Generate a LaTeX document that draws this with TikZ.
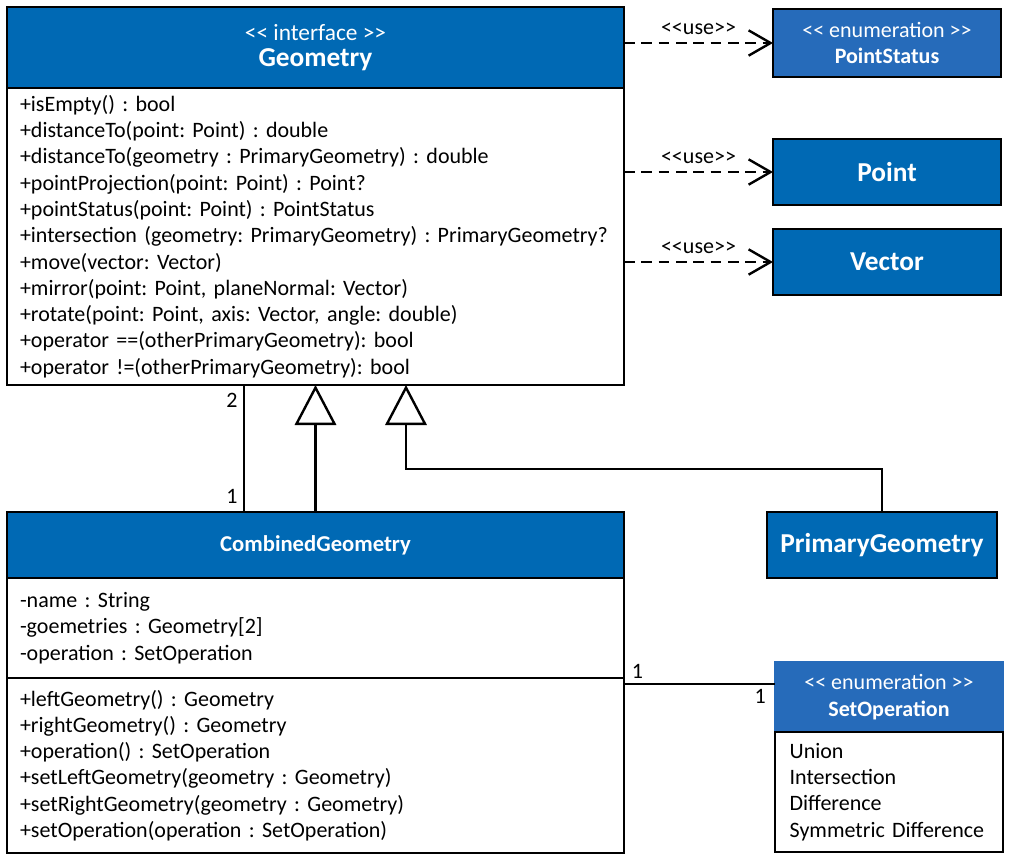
\documentclass[tikz,border=0pt]{standalone}
\usepackage{fontspec}
\setmainfont{Carlito}
\usetikzlibrary{arrows.meta,positioning}
\definecolor{umlblue}{RGB}{0,105,180}
\definecolor{enumblue}{RGB}{38,107,186}
\newcommand{\fsz}[1]{\fontsize{#1}{19.7pt}\selectfont}
\newcommand{\stl}{<\kern0pt<}
\newcommand{\str}{>\kern0pt>}
\frenchspacing
\tikzset{
  cls/.style={draw, line width=1.8pt, inner sep=0pt, outer sep=0pt, anchor=north west},
  head/.style={cls, fill=umlblue, text=white, align=center, font=\bfseries\fsz{16.5}},
  body/.style={cls, fill=white, align=left, inner xsep=9.75pt, font=\fsz{16.5}},
  dep/.style={line width=1.8pt, dashed, dash pattern=on 8pt off 5pt,
    -{Straight Barb[length=16.5pt,width=19pt]}},
  gen/.style={line width=1.8pt, -{Triangle[length=30pt,width=31pt,fill=white]}},
  mult/.style={font=\fsz{16.5}, inner sep=1pt}
}
\begin{document}
\begin{tikzpicture}[x=0.75pt,y=-0.75pt]
        \useasboundingbox (0,0) rectangle (1010,861);
        % interface Geometry
        \node[head, minimum width=462.75pt, minimum height=60.75pt] (geohead) at (7,7)
        {{\fsz{17.5}\mdseries \stl{} interface \str}\\{\fsz{20.5}Geometry}};
        \node[body, text width=443.25pt, minimum height=222.75pt] (geobody) at (geohead.south west)
        {+isEmpty() : bool\\
         +distanceTo(point: Point) : double\\
         +distanceTo(geometry : PrimaryGeometry) : double\\
         +pointProjection(point: Point) : Point?\\
         +pointStatus(point: Point) : PointStatus\\
         +intersection (geometry: PrimaryGeometry) : PrimaryGeometry?\\
         +move(vector: Vector)\\
         +mirror(point: Point, planeNormal: Vector)\\
         +rotate(point: Point, axis: Vector, angle: double)\\
         +operator ==(otherPrimaryGeometry): bool\\
         +operator !=(otherPrimaryGeometry): bool\par\vspace*{7.5pt}};
        % used types
        \node[head, fill=enumblue, minimum width=171pt, minimum height=51pt] (pstatus) at (773,9)
        {{\mdseries \stl{} enumeration \str}\\PointStatus};
        \node[head, minimum width=171pt, minimum height=49.5pt, font=\bfseries\fsz{20.5}] (point) at (773,139) {Point};
        \node[head, minimum width=171pt, minimum height=49.5pt, font=\bfseries\fsz{20.5}] (vector) at (773,229) {Vector};
        \draw[dep] (geohead.east |- pstatus.west) -- (pstatus.west) node[midway, above=4pt, mult] {\stl use\str};
        \draw[dep] (geobody.east |- point.west) -- (point.west) node[midway, above=4pt, mult] {\stl use\str};
        \draw[dep] (geobody.east |- vector.west) -- (vector.west) node[midway, above=4pt, mult] {\stl use\str};
        % CombinedGeometry
        \node[head, minimum width=462.75pt, minimum height=49.5pt, font=\bfseries\fsz{17}] (combhead) at (7,512) {CombinedGeometry};
        \node[body, text width=443.25pt, minimum height=75pt] (combattr) at (combhead.south west)
        {-name : String\\
         -goemetries : Geometry[2]\\
         -operation : SetOperation};
        \node[body, text width=443.25pt, minimum height=131.25pt] (combmeth) at (combattr.south west)
        {+leftGeometry() : Geometry\\
         +rightGeometry() : Geometry\\
         +operation() : SetOperation\\
         +setLeftGeometry(geometry : Geometry)\\
         +setRightGeometry(geometry : Geometry)\\
         +setOperation(operation : SetOperation)};
        % PrimaryGeometry
        \node[head, minimum width=172.5pt, minimum height=49.5pt, font=\bfseries\fsz{20.5}] (primary) at (767,512) {PrimaryGeometry};
        % SetOperation
        \node[head, draw=enumblue, fill=enumblue, minimum width=171pt, minimum height=52.5pt] (setophead) at (775,662)
        {{\mdseries \stl{} enumeration \str}\\SetOperation};
        \node[body, inner xsep=11pt, text width=149pt, minimum height=90pt] (setopbody) at (setophead.south west)
        {Union\\
         Intersection\\
         Difference\\
         Symmetric Difference};
        % composition and generalisations
        \coordinate (compx) at (244,512);
        \draw[line width=1.8pt] (compx) -- (compx |- geobody.south)
          node[pos=0.12, left=3pt, mult] {1} node[pos=0.88, left=3pt, mult] {2};
        \draw[gen] (combhead.north) -- (combhead.north |- geobody.south);
        \coordinate (bend) at (406,469);
        \draw[gen] (primary.north) |- (bend) -- (bend |- geobody.south);
        % association to SetOperation
        \coordinate (opjoin) at (775,684);
        \draw[line width=1.8pt] (opjoin -| combmeth.east) -- (opjoin)
          node[pos=0, above right=2pt and 4pt, mult] {1} node[pos=1, below left=2pt and 5pt, mult] {1};
\end{tikzpicture}
\end{document}
